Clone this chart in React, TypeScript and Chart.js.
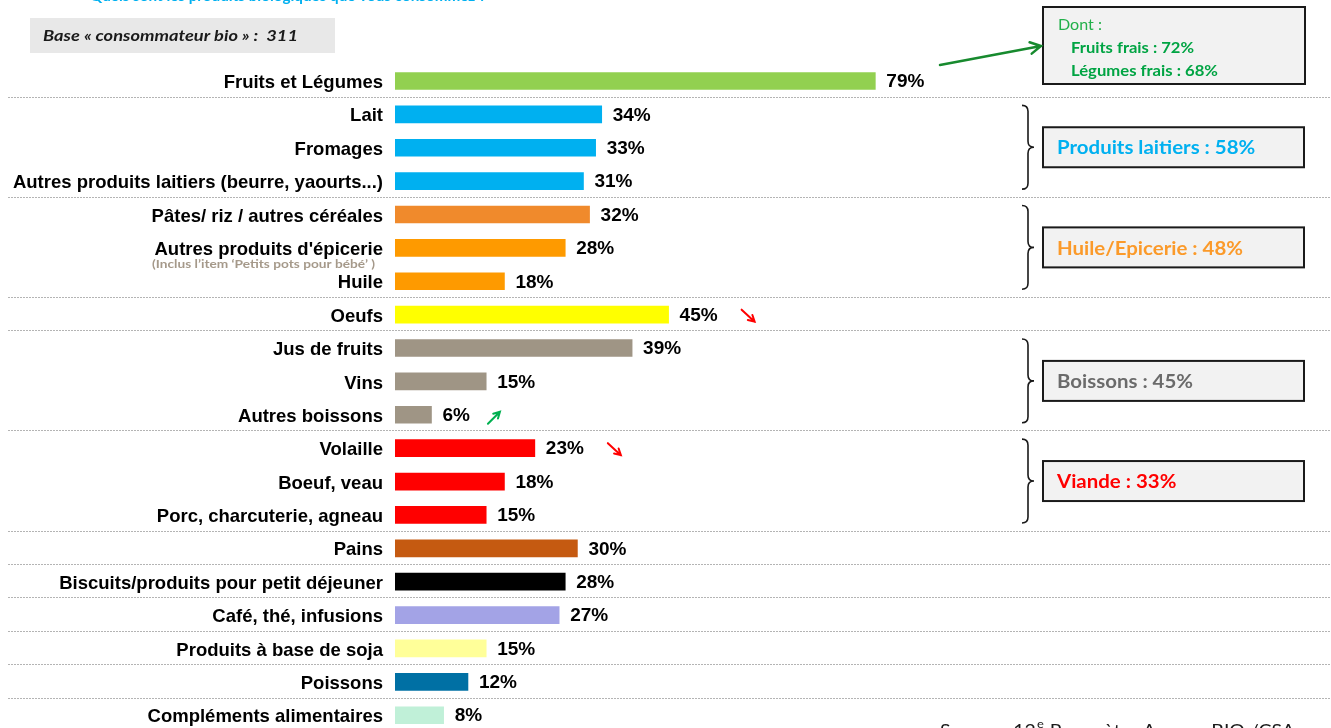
import React, { useEffect, useRef } from "react";
import { Chart, registerables } from "chart.js";

Chart.register(...registerables);

const categories = [
  "Fruits et Légumes",
  "Lait",
  "Fromages",
  "Autres produits laitiers (beurre, yaourts...)",
  "Pâtes/ riz / autres céréales",
  "Autres produits d'épicerie",
  "Huile",
  "Oeufs",
  "Jus de fruits",
  "Vins",
  "Autres boissons",
  "Volaille",
  "Boeuf, veau",
  "Porc, charcuterie, agneau",
  "Pains",
  "Biscuits/produits pour petit déjeuner",
  "Café, thé, infusions",
  "Produits à base de soja",
  "Poissons",
  "Compléments alimentaires",
];

const values = [79, 34, 33, 31, 32, 28, 18, 45, 39, 15, 6, 23, 18, 15, 30, 28, 27, 15, 12, 8];

const barColors = [
  "#92d050",
  "#00b0f0", "#00b0f0", "#00b0f0",
  "#f08a2c", "#fe9a00", "#fe9a00",
  "#ffff00",
  "#9f9585", "#9f9585", "#9f9585",
  "#ff0000", "#ff0000", "#ff0000",
  "#c55a11",
  "#000000",
  "#a3a3e6",
  "#ffff99",
  "#0070a4",
  "#c0f0d8",
];

// trend arrows: "down" | "up" | ""
const trends = ["", "", "", "", "", "", "", "down", "", "", "up", "down", "", "", "", "", "", "", "", ""];

// separator after these category indexes
const separatorsAfter = [0, 3, 6, 7, 10, 13, 14, 15, 16, 17, 18];

const groupLabels = ["Produits laitiers : 58%", "Huile/Epicerie : 48%", "Boissons : 45%", "Viande : 33%"];
const groupColors = ["#00b0f0", "#fb9a2a", "#6b6b6b", "#ff0000"];
const groupFrom = [1, 4, 8, 11];
const groupTo = [3, 6, 10, 13];

const questionText = "Quels sont les produits biologiques que vous consommez ?";
const baseText = "Base « consommateur bio » :  311";
const noteText = "(Inclus l\u2019item \u2018Petits pots pour bébé\u2019 )";
const dontLines = ["Dont :", "Fruits frais : 72%", "Légumes frais : 68%"];

function fitText(ctx: CanvasRenderingContext2D, text: string, x: number, y: number, w: number) {
  const m = ctx.measureText(text).width;
  ctx.save();
  ctx.translate(x, y);
  ctx.scale(w / m, 1);
  ctx.fillText(text, 0, 0);
  ctx.restore();
}

function drawArrow(ctx: CanvasRenderingContext2D, x1: number, y1: number, x2: number, y2: number, color: string, lw: number, head: number) {
  ctx.save();
  ctx.strokeStyle = color;
  ctx.lineWidth = lw;
  ctx.lineCap = "round";
  ctx.beginPath();
  ctx.moveTo(x1, y1);
  ctx.lineTo(x2, y2);
  const a = Math.atan2(y2 - y1, x2 - x1);
  ctx.moveTo(x2 - head * Math.cos(a - 0.5), y2 - head * Math.sin(a - 0.5));
  ctx.lineTo(x2, y2);
  ctx.lineTo(x2 - head * Math.cos(a + 0.5), y2 - head * Math.sin(a + 0.5));
  ctx.stroke();
  ctx.restore();
}

function drawBrace(ctx: CanvasRenderingContext2D, y1: number, y2: number) {
  const x0 = 1022, xm = 1028, xt = 1034, r = 6;
  const ym = (y1 + y2) / 2;
  ctx.save();
  ctx.strokeStyle = "#1a1a1a";
  ctx.lineWidth = 1.6;
  ctx.beginPath();
  ctx.moveTo(x0, y1);
  ctx.quadraticCurveTo(xm, y1, xm, y1 + r);
  ctx.lineTo(xm, ym - r);
  ctx.quadraticCurveTo(xm, ym, xt, ym);
  ctx.quadraticCurveTo(xm, ym, xm, ym + r);
  ctx.lineTo(xm, y2 - r);
  ctx.quadraticCurveTo(xm, y2, x0, y2);
  ctx.stroke();
  ctx.restore();
}

function drawBox(ctx: CanvasRenderingContext2D, x: number, y: number, w: number, h: number) {
  ctx.save();
  ctx.fillStyle = "#f2f2f2";
  ctx.fillRect(x, y, w, h);
  ctx.strokeStyle = "#1a1a1a";
  ctx.lineWidth = 2;
  ctx.strokeRect(x, y, w, h);
  ctx.restore();
}

const overlayPlugin = {
  id: "overlay",
  beforeDatasetsDraw(chart: any) {
    const ctx: CanvasRenderingContext2D = chart.ctx;
    const ys = chart.scales.y;
    ctx.save();
    ctx.strokeStyle = "#b4b4b4";
    ctx.lineWidth = 1;
    ctx.setLineDash([2, 1]);
    separatorsAfter.forEach((i) => {
      const y = Math.round((ys.getPixelForValue(i) + ys.getPixelForValue(i + 1)) / 2) - 0.5;
      ctx.beginPath();
      ctx.moveTo(8, y);
      ctx.lineTo(1331, y);
      ctx.stroke();
    });
    ctx.restore();
  },
  afterDraw(chart: any) {
    const ctx: CanvasRenderingContext2D = chart.ctx;
    const xs = chart.scales.x;
    const ys = chart.scales.y;

    // value labels and trends
    ctx.save();
    ctx.font = "bold 19px 'Liberation Sans', Arial, sans-serif";
    ctx.fillStyle = "#000";
    ctx.textBaseline = "middle";
    ctx.textAlign = "left";
    values.forEach((v, i) => {
      const x = xs.getPixelForValue(v) + 11;
      const y = ys.getPixelForValue(i) + 1;
      const t = v + "%";
      ctx.fillText(t, x, y);
      const tw = ctx.measureText(t).width;
      if (trends[i] === "down") {
        const ax = x + tw + 24;
        drawArrow(ctx, ax, y - 6, ax + 13, y + 6, "#ff0000", 2, 7);
      } else if (trends[i] === "up") {
        const ax = x + tw + 18;
        drawArrow(ctx, ax, y + 8, ax + 12, y - 4, "#00b050", 2, 7);
      }
    });
    ctx.restore();

    // note under "Autres produits d'épicerie"
    ctx.save();
    ctx.font = "bold 12px Lato, sans-serif";
    ctx.fillStyle = "#a5998a";
    ctx.textBaseline = "middle";
    fitText(ctx, noteText, 152, (ys.getPixelForValue(5) + ys.getPixelForValue(6)) / 2, 223);
    ctx.restore();

    // question title (cut at top)
    ctx.save();
    ctx.font = "bold 15px Lato, sans-serif";
    ctx.fillStyle = "#00b0f0";
    ctx.textBaseline = "alphabetic";
    fitText(ctx, questionText, 90, 1, 396);
    ctx.restore();

    // base box
    ctx.save();
    ctx.fillStyle = "#e8e8e8";
    ctx.fillRect(30, 18, 305, 35);
    ctx.font = "italic bold 16px Lato, sans-serif";
    ctx.fillStyle = "#1a1a1a";
    ctx.textBaseline = "middle";
    fitText(ctx, baseText, 43, 36, 255);
    ctx.restore();

    // Dont box + arrow
    drawBox(ctx, 1043, 7, 262, 77);
    ctx.save();
    ctx.textBaseline = "middle";
    ctx.fillStyle = "#22b04a";
    ctx.font = "16px Lato, sans-serif";
    fitText(ctx, dontLines[0], 1058, 25, 44);
    ctx.fillStyle = "#00a443";
    ctx.font = "bold 16px Lato, sans-serif";
    fitText(ctx, dontLines[1], 1071, 48, 123);
    fitText(ctx, dontLines[2], 1071, 71, 147);
    ctx.restore();
    drawArrow(ctx, 940, 65, 1041, 46, "#178a2e", 2.5, 12);

    // group braces and boxes
    groupLabels.forEach((label, g) => {
      const y1 = ys.getPixelForValue(groupFrom[g]) - 9;
      const y2 = ys.getPixelForValue(groupTo[g]) + 8;
      drawBrace(ctx, y1, y2);
      const ym = (y1 + y2) / 2;
      drawBox(ctx, 1043, ym - 20, 261, 40);
      ctx.save();
      ctx.font = "bold 19px Lato, sans-serif";
      ctx.fillStyle = groupColors[g];
      ctx.textBaseline = "middle";
      const natural = ctx.measureText(label).width;
      fitText(ctx, label, 1057, ym + 1, natural * 1.075);
      ctx.restore();
    });

    // source
    ctx.save();
    ctx.fillStyle = "#1a1a1a";
    ctx.textBaseline = "alphabetic";
    const sx = 940, sy = 737;
    const p1 = "Source : 12";
    const p2 = " Paramètre Agence BIO /CSA";
    ctx.font = "18px Lato, sans-serif";
    const w1 = ctx.measureText(p1).width;
    const w2 = ctx.measureText(p2).width;
    ctx.font = "12px Lato, sans-serif";
    const we = ctx.measureText("e").width;
    const total = w1 + we + 2 + w2;
    ctx.translate(sx, sy);
    ctx.scale(355 / total, 1);
    ctx.font = "18px Lato, sans-serif";
    ctx.fillText(p1, 0, 0);
    ctx.font = "12px Lato, sans-serif";
    ctx.fillText("e", w1 + 1, -9);
    ctx.font = "18px Lato, sans-serif";
    ctx.fillText(p2, w1 + we + 2, 0);
    ctx.restore();
  },
};

export default function App() {
  const ref = useRef<HTMLCanvasElement | null>(null);

  useEffect(() => {
    document.body.style.margin = "0";
    const canvas = ref.current;
    if (!canvas) return;
    const chart = new Chart(canvas, {
      type: "bar",
      data: {
        labels: categories,
        datasets: [
          {
            data: values,
            backgroundColor: barColors,
            borderWidth: 0,
            barThickness: 17,
          },
        ],
      },
      options: {
        indexAxis: "y",
        responsive: false,
        animation: false,
        devicePixelRatio: 1,
        layout: { padding: { left: 0, right: 328, top: 64.3, bottom: 12.7 } },
        plugins: {
          legend: { display: false },
          tooltip: { enabled: false },
        },
        scales: {
          x: {
            display: false,
            min: 0,
            max: 100,
            grid: { display: false },
          },
          y: {
            grid: { display: false, drawTicks: false },
            border: { display: false },
            ticks: {
              autoSkip: false,
              padding: 12,
              labelOffset: 2,
              color: "#000",
              font: { family: "'Liberation Sans', Arial, sans-serif", size: 18.5, weight: "bold" },
            },
            afterFit: (scale: any) => {
              scale.width = 395;
            },
          },
        },
      },
      plugins: [overlayPlugin],
    } as any);
    return () => chart.destroy();
  }, []);

  return (
    <div style={{ width: 1331, height: 728, overflow: "hidden", position: "relative", background: "#fff" }}>
      <canvas ref={ref} width={1331} height={755} style={{ display: "block" }} />
    </div>
  );
}
